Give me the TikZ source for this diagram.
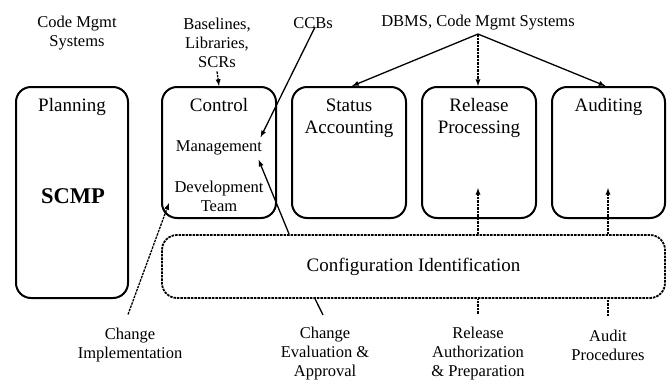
\documentclass[tikz,border=0pt]{standalone}
\usepackage{fontspec}
\setmainfont{Liberation Serif}
\usepackage{tikz}
\usetikzlibrary{positioning, arrows}

\begin{document}
\begin{tikzpicture}[x=1pt,y=-1pt,
    phase/.style={rectangle,draw,line width=2pt,rounded corners=15pt},
    ident/.style={rectangle,draw,line width=1.8pt,rounded corners=15pt,dash pattern=on 2.5pt off 1pt,
      font=\fontsize{19}{22}\selectfont},
    title/.style={align=center,font=\fontsize{19}{22}\selectfont},
    note/.style={align=center,font=\fontsize{16.5}{19}\selectfont},
    flow/.style={draw,line width=1.3pt,-latex},
    dflow/.style={draw,line width=1.3pt,dash pattern=on 2.5pt off 1pt,-latex}
    ]
    \useasboundingbox (0,0) rectangle (667,381);
    % the five SCM functions
    \node [phase,minimum width=112pt,minimum height=211pt] (plan) at (72,192.5) {};
    \node [phase,minimum width=114pt,minimum height=131pt] (ctrl) at (219,152.5) {};
    \node [phase,minimum width=114pt,minimum height=131pt] (stat) at (349,152.5) {};
    \node [phase,minimum width=114pt,minimum height=131pt] (rel) at (479,152.5) {};
    \node [phase,minimum width=113pt,minimum height=131pt] (aud) at (608.5,152.5) {};
    \node [ident,minimum width=503pt,minimum height=63pt] (conf) at (413.5,266.5) {Configuration Identification};

    \node [title,below=9pt of plan.north] (plant) {Planning};
    \node [align=center,font=\fontsize{22.5}{26}\selectfont\bfseries] (scmp) at (73,196) {SCMP};
    \node [title,below=9pt of ctrl.north] (ctrlt) {Control};
    \node [title,below=9pt of stat.north] (statt) {Status\\Accounting};
    \node [title,below=9pt of rel.north] (relt) {Release\\Processing};
    \node [title,below=9pt of aud.north] (audt) {Auditing};
    \node [note] (mgmt) at (219,148) {Management};
    \node [note] (devt) at (219,196) {Development\\Team};

    % inputs
    \node [note] (code) at (77,33) {Code Mgmt\\Systems};
    \node [note] (base) at (217,43) {Baselines,\\Libraries,\\SCRs};
    \node [note] (ccb) at (313,23) {CCBs};
    \node [note] (dbms) at (478,23) {DBMS, Code Mgmt Systems};
    \node [note] (chimpl) at (130,345) {Change\\Implementation};
    \node [note] (cheval) at (325,354) {Change\\Evaluation \&\\Approval};
    \node [note] (relauth) at (478,354) {Release\\Authorization\\\& Preparation};
    \node [note] (audproc) at (608,345) {Audit\\Procedures};

    \draw [dflow] (base.south) -- (ctrl.north);
    \draw [flow] ([xshift=2pt,yshift=5pt]ccb.south) -- ([xshift=-5pt]mgmt.north east);
    \draw [flow] ([xshift=128pt]conf.north west) -- ([xshift=-7pt,yshift=-1pt]mgmt.south east);
    \draw [dflow] ([xshift=-2pt,yshift=10pt]chimpl.north) -- ([shift={(8pt,16pt)}]ctrl.south west);
    \draw [line width=1.3pt] ([xshift=154pt]conf.south west) -- ([xshift=-2pt,yshift=9pt]cheval.north);
    \draw [flow] (dbms.south) -- ([xshift=3pt]stat.north);
    \draw [dflow] (dbms.south) -- ([xshift=-1pt]rel.north);
    \draw [flow] (dbms.south) -- ([xshift=-3pt]aud.north);
    \draw [dflow,-] ([yshift=10pt]relauth.north) -- (relauth.north |- conf.south);
    \draw [dflow] (relauth.north |- conf.north) -- ([yshift=31pt]relauth.north |- rel.south);
    \draw [dflow,-] ([yshift=10pt]audproc.north) -- (audproc.north |- conf.south);
    \draw [dflow] (audproc.north |- conf.north) -- ([yshift=31pt]audproc.north |- aud.south);
\end{tikzpicture}
\end{document}
